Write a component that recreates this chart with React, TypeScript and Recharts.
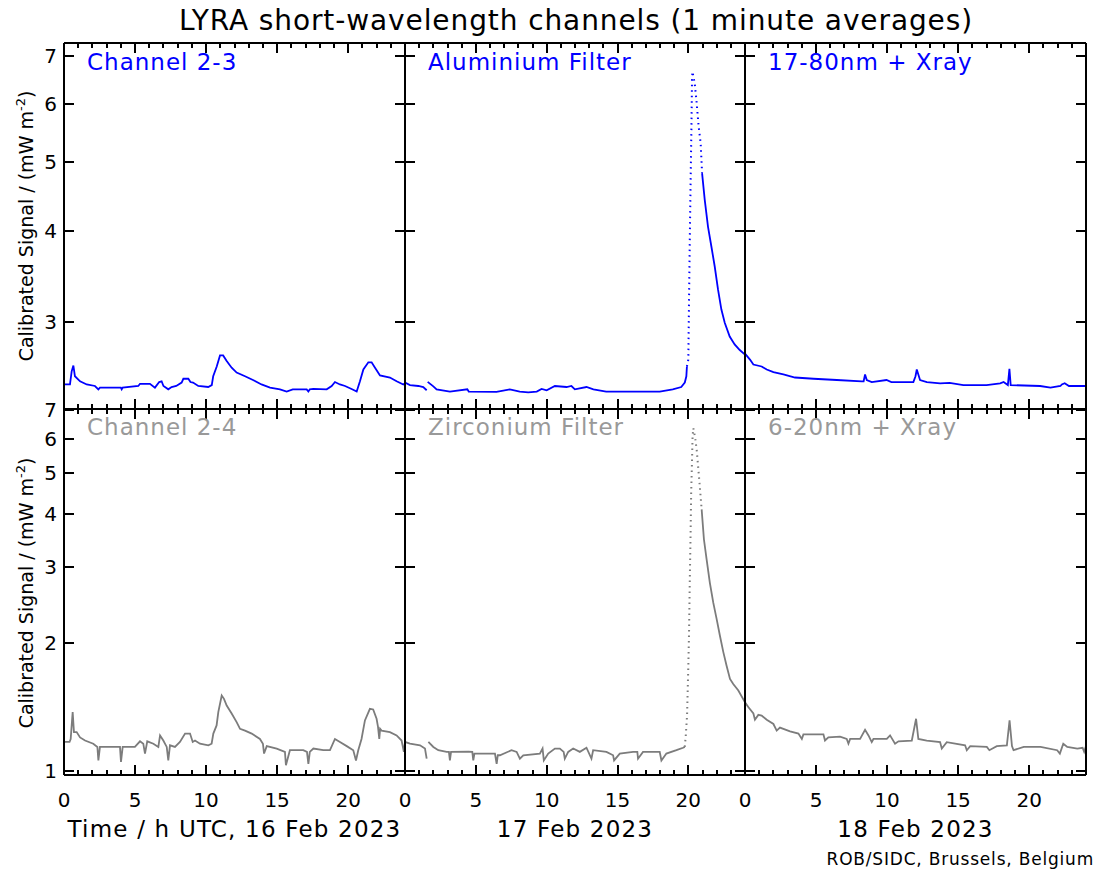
import React from "react";
import { LineChart, Line, XAxis, YAxis } from "recharts";

type Pt = [number, number | null];

// top row: channel 2-3 (Aluminium filter), one curve per day, [hour UTC, mW m^-2]
const ch3Feb16: Pt[] = [
  [0, 2.455], [0.42, 2.455], [0.54, 2.56], [0.66, 2.608], [0.77, 2.52], [1.13, 2.48], [1.6, 2.455],
  [2.18, 2.443], [2.42, 2.417], [2.53, 2.43], [4.0, 2.43], [4.06, 2.417], [4.13, 2.43], [5.23, 2.443],
  [5.35, 2.46], [6.05, 2.46], [6.4, 2.43], [6.7, 2.474], [6.87, 2.48], [7.0, 2.443], [7.34, 2.417],
  [7.57, 2.435], [7.9, 2.443], [8.28, 2.47], [8.4, 2.5], [8.75, 2.5], [8.9, 2.474], [9.08, 2.47],
  [9.45, 2.443], [10.15, 2.435], [10.4, 2.45], [10.5, 2.52], [10.75, 2.6], [10.98, 2.693], [11.2, 2.693],
  [11.45, 2.645], [11.8, 2.59], [12.15, 2.55], [12.74, 2.52], [13.3, 2.49], [13.9, 2.455], [14.5, 2.43],
  [15.2, 2.417], [15.67, 2.4], [16.1, 2.417], [17.08, 2.417], [17.2, 2.4], [17.3, 2.417], [17.55, 2.42],
  [18.49, 2.417], [18.84, 2.443], [19.07, 2.474], [19.42, 2.455], [19.78, 2.443], [20.24, 2.42],
  [20.6, 2.4], [20.83, 2.48], [21.07, 2.575], [21.42, 2.635], [21.65, 2.635], [21.89, 2.59],
  [22.24, 2.527], [22.94, 2.51], [23.41, 2.48], [23.88, 2.455], [24, 2.465],
];
const ch3Feb17: Pt[] = [
  [0, 2.47], [0.35, 2.45], [0.94, 2.443], [1.29, 2.435], [1.53, 2.41], [1.56, null], [1.6, 2.475],
  [2.0, 2.44], [2.23, 2.417], [3.17, 2.4], [4.4, 2.417], [4.5, 2.4], [6.46, 2.397], [7.4, 2.417],
  [8.1, 2.4], [8.7, 2.394], [9.3, 2.4], [9.64, 2.42], [10.0, 2.41], [10.58, 2.443], [11.4, 2.435],
  [11.75, 2.443], [11.99, 2.417], [12.81, 2.435], [13.3, 2.417], [14.2, 2.4], [16.1, 2.4], [17.98, 2.4],
  [18.9, 2.417], [19.5, 2.435], [19.75, 2.47], [19.86, 2.52], [19.9, 2.6],
];
const ch3Feb17Flare: Pt[] = [
  [19.9, 2.6], [20.0, 2.658], [20.05, 3.22], [20.1, 3.855], [20.17, 4.82], [20.22, 5.59], [20.26, 6.48],
  [20.29, 6.66], [20.45, 6.42], [20.57, 6.08], [20.73, 5.59], [20.87, 5.3], [20.97, 4.82],
];
const ch3Feb17Decay: Pt[] = [
  [20.97, 4.82], [21.16, 4.42], [21.39, 4.06], [21.63, 3.81], [21.86, 3.58], [22.1, 3.32], [22.33, 3.12],
  [22.57, 2.99], [22.92, 2.86], [23.27, 2.79], [23.63, 2.74], [24, 2.7],
];
const ch3Feb18: Pt[] = [
  [0, 2.71], [0.35, 2.658], [0.59, 2.616], [1.17, 2.6], [1.53, 2.575], [2.0, 2.553], [2.7, 2.535],
  [3.52, 2.51], [4.82, 2.5], [6.46, 2.49], [8.22, 2.48], [8.35, 2.48], [8.45, 2.535], [8.57, 2.49],
  [8.92, 2.474], [9.96, 2.49], [10.3, 2.474], [11.85, 2.474], [12.0, 2.52], [12.09, 2.575], [12.32, 2.49],
  [12.8, 2.474], [13.73, 2.463], [14.4, 2.468], [15.37, 2.45], [17.0, 2.45], [17.96, 2.463], [18.2, 2.474],
  [18.5, 2.45], [18.61, 2.58], [18.7, 2.45], [20.77, 2.443], [21.5, 2.43], [22.2, 2.443], [22.3, 2.455],
  [22.5, 2.465], [22.8, 2.443], [24, 2.443],
];

// bottom row: channel 2-4 (Zirconium filter)
const ch4Feb16: Pt[] = [
  [0, 1.171], [0.39, 1.171], [0.47, 1.19], [0.61, 1.375], [0.7, 1.235], [0.89, 1.235], [1.13, 1.2],
  [1.48, 1.18], [2.06, 1.16], [2.35, 1.14], [2.42, 1.06], [2.53, 1.14], [3.94, 1.14], [4.01, 1.052],
  [4.13, 1.14], [4.99, 1.14], [5.35, 1.175], [5.58, 1.16], [5.7, 1.1], [5.86, 1.175], [6.29, 1.16],
  [6.64, 1.14], [6.76, 1.213], [6.99, 1.18], [7.23, 1.14], [7.34, 1.06], [7.46, 1.15], [7.81, 1.14],
  [8.16, 1.171], [8.52, 1.225], [8.87, 1.225], [9.06, 1.171], [9.22, 1.18], [9.57, 1.16], [10.16, 1.15],
  [10.39, 1.16], [10.51, 1.225], [10.74, 1.28], [10.86, 1.375], [11.1, 1.504], [11.26, 1.477],
  [11.45, 1.425], [11.8, 1.365], [12.15, 1.303], [12.39, 1.257], [12.74, 1.245], [13.21, 1.225],
  [13.79, 1.19], [14.0, 1.16], [14.08, 1.1], [14.27, 1.145], [14.97, 1.13], [15.55, 1.11], [15.62, 1.033],
  [15.9, 1.12], [16.84, 1.12], [17.1, 1.11], [17.2, 1.04], [17.3, 1.11], [17.55, 1.13], [18.25, 1.12],
  [18.72, 1.12], [19.07, 1.19], [19.42, 1.171], [19.9, 1.145], [20.36, 1.12], [20.55, 1.06], [20.71, 1.12],
  [20.94, 1.19], [21.18, 1.315], [21.53, 1.4], [21.76, 1.395], [22.0, 1.327], [22.1, 1.27], [22.19, 1.19],
  [22.25, 1.257], [22.35, 1.245], [22.94, 1.235], [23.41, 1.213], [23.76, 1.18], [23.92, 1.11], [24, 1.171],
];
const ch4Feb17: Pt[] = [
  [0, 1.171], [0.35, 1.16], [1.06, 1.15], [1.41, 1.13], [1.53, 1.07], [1.58, null], [1.65, 1.171],
  [2.0, 1.14], [2.35, 1.12], [2.94, 1.11], [3.1, 1.11], [3.17, 1.06], [3.25, 1.11], [4.47, 1.112],
  [4.75, 1.11], [4.82, 1.06], [4.9, 1.1], [6.35, 1.1], [6.47, 1.04], [6.55, 1.09], [6.7, 1.09],
  [7.52, 1.12], [7.88, 1.11], [8.11, 1.07], [8.35, 1.09], [9.52, 1.1], [9.71, 1.13], [9.8, 1.06],
  [10.11, 1.1], [10.58, 1.13], [10.93, 1.13], [11.2, 1.11], [11.28, 1.07], [11.52, 1.11], [11.87, 1.13],
  [12.34, 1.11], [12.81, 1.135], [13.16, 1.07], [13.28, 1.12], [14.22, 1.11], [14.69, 1.09], [14.76, 1.06],
  [15.16, 1.1], [16.1, 1.11], [16.4, 1.11], [16.45, 1.07], [16.8, 1.11], [17.98, 1.11], [18.1, 1.06],
  [18.45, 1.1], [19.16, 1.12], [19.63, 1.135], [19.75, 1.14],
];
const ch4Feb17Flare: Pt[] = [
  [19.75, 1.14], [19.82, 1.213], [19.91, 1.35], [20.0, 1.766], [20.05, 2.11], [20.1, 2.76], [20.16, 3.61],
  [20.2, 4.48], [20.25, 5.17], [20.3, 6.07], [20.35, 6.35], [20.47, 6.07], [20.59, 5.65], [20.75, 4.9],
  [20.94, 4.1],
];
const ch4Feb17Decay: Pt[] = [
  [20.94, 4.1], [21.1, 3.49], [21.29, 3.13], [21.52, 2.76], [21.76, 2.48], [22.0, 2.27], [22.23, 2.075],
  [22.47, 1.9], [22.7, 1.766], [22.94, 1.645], [23.17, 1.6], [23.53, 1.545], [24, 1.45],
];
const ch4Feb18: Pt[] = [
  [0, 1.45], [0.23, 1.413], [0.59, 1.365], [0.7, 1.32], [0.94, 1.355], [1.17, 1.35], [1.53, 1.32],
  [2.0, 1.29], [2.23, 1.245], [2.46, 1.265], [3.17, 1.24], [3.76, 1.225], [4.0, 1.19], [4.11, 1.22],
  [5.52, 1.22], [5.63, 1.18], [5.87, 1.2], [6.69, 1.205], [7.16, 1.19], [7.28, 1.16], [7.4, 1.19],
  [8.1, 1.19], [8.45, 1.25], [8.69, 1.213], [8.92, 1.17], [9.04, 1.19], [9.98, 1.19], [10.21, 1.213],
  [10.56, 1.16], [10.8, 1.175], [11.74, 1.18], [12.04, 1.327], [12.2, 1.19], [12.79, 1.18], [13.73, 1.17],
  [13.85, 1.13], [14.2, 1.17], [15.49, 1.15], [15.61, 1.12], [15.85, 1.145], [17.02, 1.14], [17.2, 1.12],
  [17.72, 1.145], [18.43, 1.15], [18.62, 1.315], [18.79, 1.145], [18.9, 1.12], [19.62, 1.14], [20.8, 1.14],
  [21.97, 1.12], [22.16, 1.1], [22.4, 1.16], [22.68, 1.14], [23.39, 1.13], [23.76, 1.135], [23.87, 1.11],
  [24, 1.145],
];

const hourTicks = [0, 1, 2, 3, 4, 5, 6, 7, 8, 9, 10, 11, 12, 13, 14, 15, 16, 17, 18, 19, 20, 21, 22, 23, 24];
const topTicks = [3, 4, 5, 6, 7];
const bottomTicks = [1, 2, 3, 4, 5, 6, 7];
const topTitles = ["Channel 2-3", "Aluminium Filter", "17-80nm + Xray"];
const bottomTitles = ["Channel 2-4", "Zirconium Filter", "6-20nm + Xray"];
const dayLabels = ["Time / h UTC, 16 Feb 2023", "17 Feb 2023", "18 Feb 2023"];

const FONT = "DejaVu Sans, sans-serif";
const BLUE = "#0000ff";
const GREY = "#7c7c7c";
const colX = [64, 405, 745];
const colW = [341, 340, 341];
const PH = 366;
const rowY = [43, 409];
// axes take 1px each (recharts skips 0-sized axes), margins shrink to match
const M = { top: 13, right: 13, bottom: 43, left: 43 };
const OFF = 44;
const frame = { stroke: "#000", strokeWidth: 2 };

const rows = (pts: Pt[]) => pts.map(([h, v]) => ({ h, v }));

const xTick = (side: "top" | "bottom", label: boolean) => (p: any) => {
  const { x, y, payload } = p;
  const major = payload.value % 5 === 0;
  const len = major ? 10 : 5;
  const dir = side === "bottom" ? -1 : 1;
  const cx = Math.round(x);
  return (
    <g>
      <path d={`M${cx},${y}V${y + dir * len}`} stroke="#000" strokeWidth={2} fill="none" />
      {label && major && payload.value < 24 ? (
        <text x={x} y={y + 32} textAnchor="middle" fontSize={20} fontFamily={FONT} fill="#000">
          {payload.value}
        </text>
      ) : null}
    </g>
  );
};

const yTick = (side: "left" | "right", label: boolean) => (p: any) => {
  const { x, y, payload } = p;
  const dir = side === "left" ? 1 : -1;
  const cy = Math.round(y);
  return (
    <g>
      <path d={`M${x},${cy}H${x + dir * 10}`} stroke="#000" strokeWidth={2} fill="none" />
      {label ? (
        <text x={x - 7} y={y + 7} textAnchor="end" fontSize={20} fontFamily={FONT} fill="#000">
          {payload.value}
        </text>
      ) : null}
    </g>
  );
};

type Series = { data: Pt[]; dotted?: boolean };

function Panel({ col, row, series }: { col: number; row: number; series: Series[] }) {
  const top = row === 0;
  const domain = top ? [2.27, 7.3] : [0.98, 7.04];
  const ticks = top ? topTicks : bottomTicks;
  const color = top ? BLUE : GREY;
  return (
    <div style={{ position: "absolute", left: colX[col] - OFF, top: rowY[row] - 14 }}>
      <LineChart width={colW[col] + 58} height={PH + 14 + OFF} margin={M}>
        <XAxis xAxisId="b" type="number" dataKey="h" domain={[0, 24]} ticks={hourTicks} interval={0}
          orientation="bottom" height={1} tickSize={0} tickMargin={0} tickLine={false} axisLine={frame}
          tick={xTick("bottom", !top)} allowDataOverflow />
        <XAxis xAxisId="t" type="number" dataKey="h" domain={[0, 24]} ticks={hourTicks} interval={0}
          orientation="top" height={1} tickSize={0} tickMargin={0} tickLine={false} axisLine={frame}
          tick={xTick("top", false)} allowDataOverflow />
        <YAxis yAxisId="l" scale="log" type="number" domain={domain} ticks={ticks} interval={0}
          orientation="left" width={1} tickSize={0} tickMargin={0} tickLine={false} axisLine={frame}
          tick={yTick("left", col === 0)} allowDataOverflow />
        <YAxis yAxisId="r" scale="log" type="number" domain={domain} ticks={ticks} interval={0}
          orientation="right" width={1} tickSize={0} tickMargin={0} tickLine={false} axisLine={frame}
          tick={yTick("right", false)} allowDataOverflow />
        {series.map((s, i) => (
          <Line key={i} xAxisId="b" yAxisId="l" data={rows(s.data)} dataKey="v" type="linear"
            stroke={color} strokeWidth={s.dotted ? 2 : 1.8} strokeDasharray={s.dotted ? "1.5 4" : undefined}
            dot={false} activeDot={false} isAnimationActive={false} connectNulls={false} />
        ))}
      </LineChart>
    </div>
  );
}

function YTitle({ cy }: { cy: number }) {
  return (
    <text x={33} y={cy} transform={`rotate(-90 33 ${cy})`} textAnchor="middle" fontSize={19} fontFamily={FONT} fill="#000">
      <tspan>Calibrated Signal / (mW m</tspan>
      <tspan dy={-8} fontSize={13}>-2</tspan>
      <tspan dy={8}>)</tspan>
    </text>
  );
}

export default function App() {
  const topSeries: Series[][] = [
    [{ data: ch3Feb16 }],
    [{ data: ch3Feb17 }, { data: ch3Feb17Flare, dotted: true }, { data: ch3Feb17Decay }],
    [{ data: ch3Feb18 }],
  ];
  const bottomSeries: Series[][] = [
    [{ data: ch4Feb16 }],
    [{ data: ch4Feb17 }, { data: ch4Feb17Flare, dotted: true }, { data: ch4Feb17Decay }],
    [{ data: ch4Feb18 }],
  ];
  return (
    <div style={{ position: "absolute", left: 0, top: 0, width: 1101, height: 874, background: "#fff", fontFamily: FONT }}>
      {topSeries.map((s, c) => <Panel key={"t" + c} col={c} row={0} series={s} />)}
      {bottomSeries.map((s, c) => <Panel key={"b" + c} col={c} row={1} series={s} />)}
      <svg width={1101} height={874} style={{ position: "absolute", left: 0, top: 0, pointerEvents: "none" }}>
        <text x={576} y={30} textAnchor="middle" fontSize={28} letterSpacing={0.9} fontFamily={FONT} fill="#000">
          LYRA short-wavelength channels (1 minute averages)
        </text>
        {topTitles.map((t, c) => (
          <text key={t} x={colX[c] + 23} y={70} fontSize={23} letterSpacing={1} fontFamily={FONT} fill={BLUE}>{t}</text>
        ))}
        {bottomTitles.map((t, c) => (
          <text key={t} x={colX[c] + 23} y={435} fontSize={23} letterSpacing={1} fontFamily={FONT} fill="#999">{t}</text>
        ))}
        <YTitle cy={226} />
        <YTitle cy={593} />
        {dayLabels.map((t, c) => (
          <text key={t} x={colX[c] + colW[c] / 2} y={837} textAnchor="middle" fontSize={23} letterSpacing={1.2} fontFamily={FONT} fill="#000">{t}</text>
        ))}
        <text x={1094} y={865} textAnchor="end" fontSize={17} letterSpacing={0.8} fontFamily={FONT} fill="#000">
          ROB/SIDC, Brussels, Belgium
        </text>
      </svg>
    </div>
  );
}
